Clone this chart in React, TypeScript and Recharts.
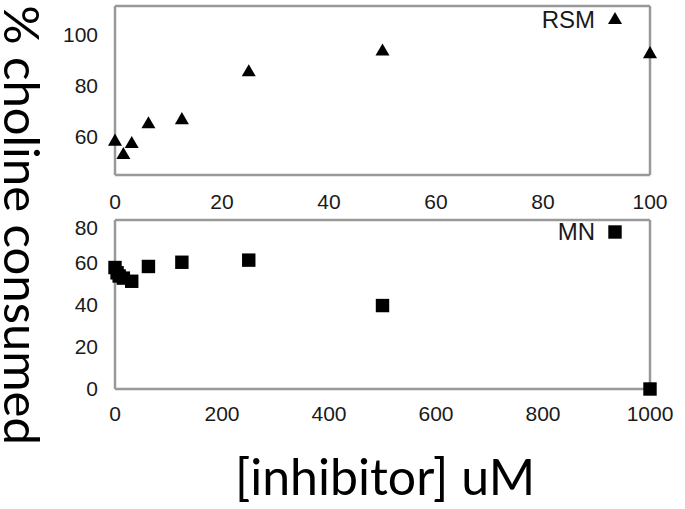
import React from 'react';
import { ScatterChart, Scatter, XAxis, YAxis, Legend, Symbols } from 'recharts';

const RSM_X = [0, 1.5625, 3.125, 6.25, 12.5, 25, 50, 100];
const RSM_Y = [58, 52.8, 57.1, 64.8, 66.4, 85.1, 93.2, 92.2];
const MN_X = [0, 3.9, 7.8, 15.6, 31.25, 62.5, 125, 250, 500, 1000];
const MN_Y = [57.5, 55, 53.5, 52.5, 51, 58, 60, 61, 39.5, 0];

const RSM_XTICKS = [0, 20, 40, 60, 80, 100];
const RSM_YTICKS = [60, 80, 100];
const MN_XTICKS = [0, 200, 400, 600, 800, 1000];
const MN_YTICKS = [0, 20, 40, 60, 80];

const X_TITLE = '[inhibitor] uM';
const Y_TITLE = '% choline consumed';

const FRAME = '#999';
const TICK_STYLE = { fill: '#1a1a1a', fontSize: 21, fontFamily: 'Liberation Sans, Arial, sans-serif' };
const TITLE_FONT = 'Lato, sans-serif';

const rsmData = RSM_X.map((x, i) => ({ x, y: RSM_Y[i] }));
const mnData = MN_X.map((x, i) => ({ x, y: MN_Y[i] }));

type Marker = 'triangle' | 'square';

function markerShape(marker: Marker, size: number) {
  return (props: any) => <Symbols cx={props.cx} cy={props.cy} type={marker} size={size} fill="#000" />;
}

function legendContent(marker: Marker, size: number) {
  return ({ payload }: any) => (
    <div style={{ display: 'flex', alignItems: 'center', justifyContent: 'flex-end', fontSize: 24, lineHeight: '28px',
      color: '#1a1a1a', fontFamily: TICK_STYLE.fontFamily }}>
      <span>{payload?.[0]?.value}</span>
      <svg width={18} height={20} style={{ marginLeft: 11 }}>
        <Symbols cx={9} cy={10} type={marker} size={size} fill="#000" />
      </svg>
    </div>
  );
}

interface PanelProps {
  name: string;
  data: { x: number; y: number }[];
  xDomain: [number, number];
  yDomain: [number, number];
  xTicks: number[];
  yTicks: number[];
  marker: Marker;
  size: number;
  top: number;
  marginTop: number;
  legendTop: number;
  xTickMargin: number;
}

function Panel(p: PanelProps) {
  return (
    <div style={{ position: 'absolute', left: 0, top: p.top }}>
      <ScatterChart width={685} height={215} margin={{ top: p.marginTop, right: 35, bottom: 16 - p.marginTop, left: 55 }}>
        <XAxis xAxisId="b" dataKey="x" type="number" domain={p.xDomain} ticks={p.xTicks} height={30}
          tickLine={false} tickSize={6} tickMargin={p.xTickMargin} axisLine={{ stroke: FRAME, strokeWidth: 2.5 }} tick={TICK_STYLE} />
        <XAxis xAxisId="bin" orientation="bottom" mirror type="number" domain={p.xDomain} ticks={p.xTicks}
          tick={false} axisLine={false} tickSize={4} tickLine={{ stroke: FRAME, strokeWidth: 1.5 }} />
        <XAxis xAxisId="t" orientation="top" mirror type="number" domain={p.xDomain} ticks={p.xTicks}
          tick={false} tickSize={4} axisLine={{ stroke: FRAME, strokeWidth: 2.5 }} tickLine={{ stroke: FRAME, strokeWidth: 1.5 }} />
        <YAxis yAxisId="l" dataKey="y" type="number" domain={p.yDomain} ticks={p.yTicks} width={60}
          tickLine={false} tickSize={6} tickMargin={11} axisLine={{ stroke: FRAME, strokeWidth: 2.5 }} tick={TICK_STYLE} />
        <YAxis yAxisId="lin" orientation="left" mirror type="number" domain={p.yDomain} ticks={p.yTicks}
          tick={false} axisLine={false} tickSize={4} tickLine={{ stroke: FRAME, strokeWidth: 1.5 }} />
        <YAxis yAxisId="r" orientation="right" mirror type="number" domain={p.yDomain} ticks={p.yTicks}
          tick={false} tickSize={4} axisLine={{ stroke: FRAME, strokeWidth: 2.5 }} tickLine={{ stroke: FRAME, strokeWidth: 1.5 }} />
        <Scatter name={p.name} data={p.data} xAxisId="b" yAxisId="l" shape={markerShape(p.marker, p.size)} fill="#000"
          isAnimationActive={false} />
        <Legend layout="horizontal" verticalAlign="middle" align="center" content={legendContent(p.marker, p.size)}
          wrapperStyle={{ top: p.legendTop, left: 480, width: 144 }} />
      </ScatterChart>
    </div>
  );
}

export default function App() {
  return (
    <div style={{ position: 'absolute', left: 0, top: 0, width: 685, height: 509, background: '#fff', overflow: 'hidden' }}>
      <Panel name="RSM" data={rsmData} xDomain={[0, 100]} yDomain={[45, 111]} xTicks={RSM_XTICKS} yTicks={RSM_YTICKS}
        marker="triangle" size={85} top={0} marginTop={6} legendTop={6} xTickMargin={13} />
      <Panel name="MN" data={mnData} xDomain={[0, 1000]} yDomain={[0, 80]} xTicks={MN_XTICKS} yTicks={MN_YTICKS}
        marker="square" size={180} top={215} marginTop={5} legendTop={3} xTickMargin={11} />
      <svg width={685} height={509} style={{ position: 'absolute', left: 0, top: 0, pointerEvents: 'none' }}>
        <text x={385} y={495} textAnchor="middle" fontFamily={TITLE_FONT} fontSize={50} fill="#000">{X_TITLE}</text>
        <text x={23} y={244} transform="rotate(90 23 225)" textAnchor="middle" fontFamily={TITLE_FONT} fontSize={49}
          fill="#000">{Y_TITLE}</text>
      </svg>
    </div>
  );
}
